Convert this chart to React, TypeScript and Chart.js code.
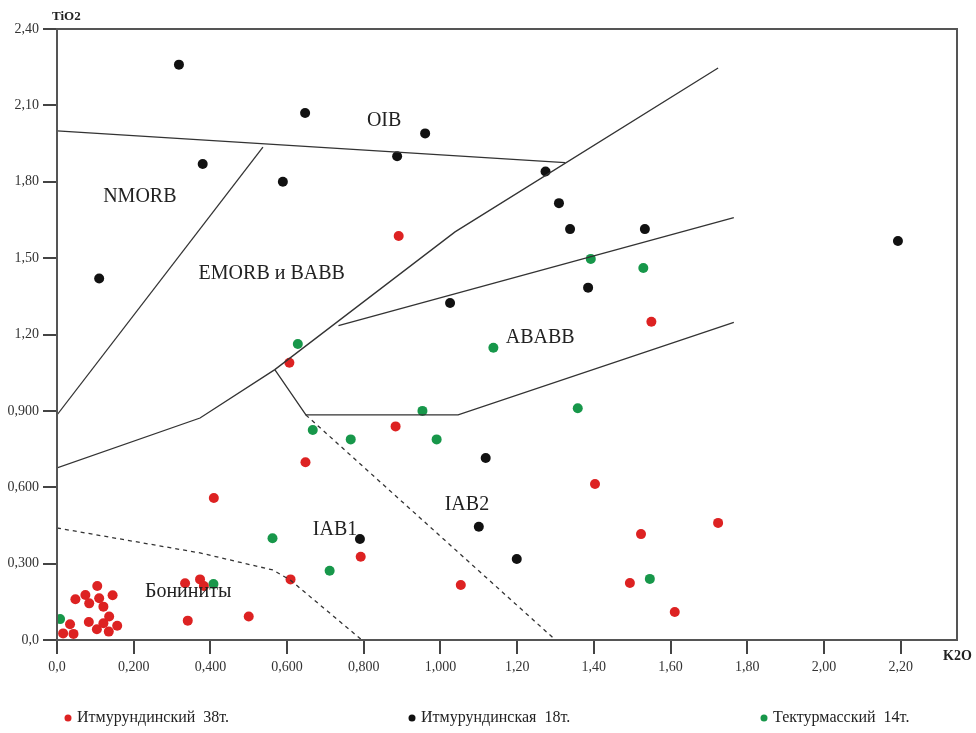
import React, { useEffect, useRef } from "react";
import { Chart, registerables } from "chart.js";

Chart.register(...registerables);

// Итмурундинский 38т. (red)
const redK2O = [0.016, 0.043, 0.034, 0.048, 0.074, 0.084, 0.105, 0.110, 0.121, 0.145, 0.083, 0.104, 0.121, 0.136, 0.135, 0.157,
  0.334, 0.373, 0.383, 0.341, 0.50, 0.609, 0.792, 1.053, 0.606, 0.883, 0.648, 1.403, 0.409, 0.891, 1.55, 1.523, 1.724, 1.494, 1.611];
const redTiO2 = [0.026, 0.024, 0.062, 0.160, 0.177, 0.144, 0.212, 0.164, 0.131, 0.176, 0.071, 0.042, 0.066, 0.092, 0.033, 0.056,
  0.223, 0.238, 0.212, 0.076, 0.092, 0.238, 0.327, 0.216, 1.089, 0.839, 0.698, 0.613, 0.558, 1.587, 1.25, 0.416, 0.46, 0.224, 0.11];

// Итмурундинская 18т. (black)
const blackK2O = [0.318, 0.647, 0.96, 0.38, 0.589, 0.887, 1.274, 1.309, 1.338, 1.533, 1.385, 2.193, 0.11, 1.025, 1.118, 1.10, 1.199, 0.79];
const blackTiO2 = [2.26, 2.07, 1.99, 1.87, 1.80, 1.90, 1.84, 1.716, 1.614, 1.614, 1.384, 1.567, 1.42, 1.324, 0.715, 0.445, 0.318, 0.397];

// Тектурмасский 14т. (green)
const greenK2O = [0.008, 0.408, 0.562, 0.711, 0.628, 0.667, 0.766, 0.953, 0.99, 1.138, 1.358, 1.392, 1.529, 1.546];
const greenTiO2 = [0.082, 0.22, 0.40, 0.272, 1.163, 0.825, 0.788, 0.90, 0.788, 1.148, 0.91, 1.497, 1.461, 0.24];

// Boundaries (K2O, TiO2)
const oibLine = [[0, 2.0], [1.325, 1.875]];
const nmorbLine = [[0, 0.884], [0.537, 1.936]];
const mainLine = [[0, 0.676], [0.373, 0.872], [0.568, 1.062], [1.038, 1.603], [1.724, 2.247]];
const ababbUpper = [[0.734, 1.235], [1.765, 1.659]];
const ababbLower = [[0.568, 1.062], [0.649, 0.884], [1.046, 0.884], [1.765, 1.248]];
const iabDashed = [[0.649, 0.884], [1.30, 0.0]];
const boniniteDashed = [[0, 0.44], [0.373, 0.342], [0.563, 0.275], [0.608, 0.236], [0.795, 0.0]];

const xTickLabels = ["0,0", "0,200", "0,400", "0,600", "0,800", "1,000", "1,20", "1,40", "1,60", "1,80", "2,00", "2,20"];
const yTickLabels = ["0,0", "0,300", "0,600", "0,900", "1,20", "1,50", "1,80", "2,10", "2,40"];

const regionNames = ["OIB", "NMORB", "EMORB и BABB", "ABABB", "IAB2", "IAB1", "Бониниты"];
const regionK2O = [0.853, 0.216, 0.56, 1.26, 1.069, 0.725, 0.342];
const regionTiO2 = [2.04, 1.74, 1.437, 1.186, 0.53, 0.432, 0.189];

const legendNames = ["Итмурундинский  38т.", "Итмурундинская  18т.", "Тектурмасский  14т."];
const RED = "#dd2222";
const BLACK = "#111111";
const GREEN = "#17974a";
const legendColors = [RED, BLACK, GREEN];

const SERIF = "'Liberation Serif', 'DejaVu Serif', serif";

const toPts = (xs: number[], ys: number[]) => xs.map((x, i) => ({ x, y: ys[i] }));
const linePts = (arr: number[][]) => arr.map(([x, y]) => ({ x, y }));

export default function App() {
  const ref = useRef<HTMLCanvasElement | null>(null);

  useEffect(() => {
    document.body.style.margin = "0";
    const canvas = ref.current;
    if (!canvas) return;

    const lineDs = (arr: number[][], dashed: boolean) => ({
      type: "line" as const,
      data: linePts(arr),
      borderColor: "#333",
      borderWidth: 1.3,
      borderDash: dashed ? [4, 4] : [],
      pointRadius: 0,
      showLine: true,
      fill: false,
      tension: 0,
    });

    const overlay = {
      id: "overlay",
      afterDraw(chart: any) {
        const ctx = chart.ctx as CanvasRenderingContext2D;
        const { left, right, top, bottom } = chart.chartArea;
        const xs = chart.scales.x;
        const ys = chart.scales.y;
        ctx.save();
        ctx.strokeStyle = "#555";
        ctx.lineWidth = 2;
        ctx.strokeRect(left, top, right - left, bottom - top);

        ctx.fillStyle = "#222";
        ctx.font = `20px ${SERIF}`;
        ctx.textAlign = "center";
        ctx.textBaseline = "middle";
        regionNames.forEach((n, i) => {
          ctx.fillText(n, xs.getPixelForValue(regionK2O[i]), ys.getPixelForValue(regionTiO2[i]));
        });

        ctx.font = `bold 13px ${SERIF}`;
        ctx.textAlign = "left";
        ctx.fillText("TiO2", left - 5, top - 12);
        ctx.font = `bold 14px ${SERIF}`;
        ctx.fillText("K2O", right - 14, bottom + 16);

        const legendX = [68, 412, 764];
        const ly = bottom + 78;
        ctx.font = `16px ${SERIF}`;
        legendNames.forEach((n, i) => {
          ctx.fillStyle = legendColors[i];
          ctx.beginPath();
          ctx.arc(legendX[i], ly, 3.5, 0, Math.PI * 2);
          ctx.fill();
          ctx.fillStyle = "#222";
          ctx.fillText(n, legendX[i] + 9, ly);
        });
        ctx.restore();
      },
    };

    const chart = new Chart(canvas, {
      type: "scatter",
      data: {
        datasets: [
          lineDs(oibLine, false),
          lineDs(nmorbLine, false),
          lineDs(mainLine, false),
          lineDs(ababbUpper, false),
          lineDs(ababbLower, false),
          lineDs(iabDashed, true),
          lineDs(boniniteDashed, true),
          { label: legendNames[0], data: toPts(redK2O, redTiO2), backgroundColor: RED, borderColor: RED, pointRadius: 5, pointBorderWidth: 0 },
          { label: legendNames[1], data: toPts(blackK2O, blackTiO2), backgroundColor: BLACK, borderColor: BLACK, pointRadius: 5, pointBorderWidth: 0 },
          { label: legendNames[2], data: toPts(greenK2O, greenTiO2), backgroundColor: GREEN, borderColor: GREEN, pointRadius: 5, pointBorderWidth: 0 },
        ] as any,
      },
      options: {
        animation: false,
        responsive: false,
        devicePixelRatio: 1,
        layout: { padding: { left: 0, top: 29, right: 19, bottom: 49 } },
        plugins: { legend: { display: false }, tooltip: { enabled: false } },
        scales: {
          x: {
            type: "linear",
            min: 0,
            max: 2.347,
            afterFit: (s: any) => { s.height = 44; },
            ticks: {
              stepSize: 0.2,
              includeBounds: false,
              color: "#333",
              font: { family: SERIF, size: 14 },
              padding: 5,
              callback: (_v: any, i: number) => xTickLabels[i] ?? "",
            },
            grid: { drawOnChartArea: false, drawTicks: true, tickLength: 14, color: "#444", lineWidth: 2 },
            border: { display: true, color: "#555", width: 2 },
          },
          y: {
            type: "linear",
            min: 0,
            max: 2.4,
            afterFit: (s: any) => { s.width = 57; },
            ticks: {
              stepSize: 0.3,
              color: "#333",
              font: { family: SERIF, size: 14 },
              padding: 4,
              callback: (_v: any, i: number) => yTickLabels[i] ?? "",
            },
            grid: { drawOnChartArea: false, drawTicks: true, tickLength: 14, color: "#444", lineWidth: 2 },
            border: { display: true, color: "#555", width: 2 },
          },
        },
      },
      plugins: [overlay],
    });
    return () => chart.destroy();
  }, []);

  return <canvas ref={ref} width={976} height={733} style={{ display: "block", width: 976, height: 733 }} />;
}
